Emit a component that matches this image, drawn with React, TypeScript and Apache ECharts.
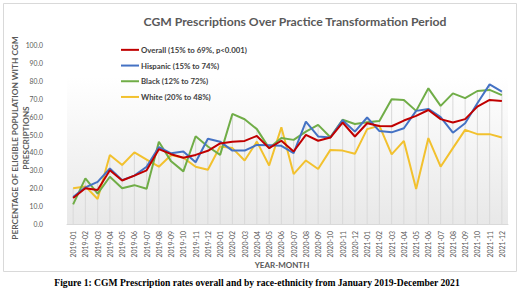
import React, { useEffect, useRef } from "react";
import * as echarts from "echarts";

const months = [
  "2019-01","2019-02","2019-03","2019-04","2019-05","2019-06","2019-07","2019-08","2019-09","2019-10","2019-11","2019-12",
  "2020-01","2020-02","2020-03","2020-04","2020-05","2020-06","2020-07","2020-08","2020-09","2020-10","2020-11","2020-12",
  "2021-01","2021-02","2021-03","2021-04","2021-05","2021-06","2021-07","2021-08","2021-09","2021-10","2021-11","2021-12",
];

const overall = [14.5, 20, 19, 30, 24.3, 27, 30, 41.8, 39, 37, 38.6, 40.9,
  45, 46, 46.4, 49.2, 42.4, 46.5, 40.5, 49.8, 46.5, 48.3, 56.7, 48.9,
  56.3, 54.8, 54.6, 57.8, 60.4, 63.7, 58.6, 56.7, 58.6, 65.6, 69.3, 68.7];
const hispanic = [15, 20.5, 23.5, 31, 24.5, 27, 32, 43, 39.5, 40.5, 34.5, 47.6,
  46, 41, 41, 44.2, 44, 43.7, 39.6, 57.2, 48.9, 48.3, 58, 51.6,
  59.5, 51.9, 51.2, 53.5, 63.2, 64.3, 59.7, 51, 56.3, 67.5, 78, 74];
const black = [11, 25.5, 17, 26.4, 20, 21.7, 19.7, 46, 35, 29.4, 49, 43.3,
  38.6, 61.5, 58.5, 53, 42.4, 48, 47, 51.6, 55.4, 48.5, 58.2, 55.9,
  56.9, 57.5, 69.7, 69.3, 63.2, 75.8, 66, 73, 70.3, 74.3, 74.9, 72];
const white = [20, 21, 14, 38.5, 33, 40, 36, 32, 38.6, 37, 32, 30.3,
  43.3, 42.4, 35.5, 46, 32.7, 54, 27.9, 35.5, 30.7, 41.4, 41, 39.2,
  53, 54.9, 38.9, 46.4, 19.5, 48, 32, 42.4, 52.6, 50.2, 50.2, 48.3];

const seriesNames = [
  "Overall (15% to 69%, p<0.001)",
  "Hispanic (15% to 74%)",
  "Black (12% to 72%)",
  "White (20% to 48%)",
];
const seriesColors = ["#C00000", "#4472C4", "#70AD47", "#F2C12E"];
const yTicks = [0, 10, 20, 30, 40, 50, 60, 70, 80, 90, 100];
const yNameLines = ["PERCENTAGE OF ELIGIBLE POPULATION WITH CGM", "PRESCRIPTIONS"];

export default function App() {
  const ref = useRef<HTMLDivElement>(null);
  useEffect(() => {
    if (!ref.current) return;
    const chart = echarts.init(ref.current, undefined, { renderer: "svg" });
    const data = [overall, hispanic, black, white];
    const maxVals = months.map((_, i) => Math.max(...data.map((d) => d[i])));
    const font = "Lato";
    chart.setOption({
      animation: false,
      backgroundColor: "#ffffff",
      title: {
        text: "CGM Prescriptions Over Practice Transformation Period",
        left: 290,
        textAlign: "center",
        top: 10,
        textStyle: { fontFamily: font, fontWeight: "bold", fontSize: 12.2, color: "#595959" },
      },
      legend: {
        data: seriesNames,
        orient: "vertical",
        left: 116,
        top: 39,
        itemWidth: 18,
        itemHeight: 2,
        itemGap: 4,
        icon: "rect",
        textStyle: { fontFamily: font, fontWeight: "bold", fontSize: 7.8, color: "#404040", lineHeight: 11.7, padding: [0, 0, 0, -3] },
      },
      grid: {
        left: 67,
        right: 12,
        top: 45,
        bottom: 71,
        show: true,
        borderWidth: 0,
        outerBoundsMode: "none",
        containLabel: false,
        backgroundColor: new echarts.graphic.LinearGradient(0, 0, 0, 1, [
          { offset: 0, color: "#ffffff" },
          { offset: 0.18, color: "#ffffff" },
          { offset: 1, color: "#e8e8e8" },
        ]),
      },
      xAxis: {
        type: "category",
        data: months,
        boundaryGap: true,
        axisLine: { show: true, lineStyle: { color: "#d9d9d9" } },
        axisTick: { show: false },
        axisLabel: { rotate: 90, fontFamily: font, fontSize: 6.9, color: "#595959", margin: 7, interval: 0 },
        splitLine: { show: false },
      },
      yAxis: {
        type: "value",
        min: yTicks[0],
        max: yTicks[yTicks.length - 1],
        interval: 10,
        axisLine: { show: false },
        axisTick: { show: false },
        axisLabel: { fontFamily: font, fontSize: 6.8, color: "#595959", margin: 24, formatter: (v: number) => v.toFixed(1) },
        splitLine: { show: false },
      },
      series: [
        {
          type: "bar",
          name: "drop",
          data: maxVals,
          barWidth: 1,
          silent: true,
          itemStyle: { color: "#d9d9d9" },
          z: 1,
        },
        ...seriesNames.map((n, k) => ({
          type: "line",
          name: n,
          data: data[k],
          showSymbol: false,
          symbol: "none",
          lineStyle: { width: 2, color: seriesColors[k] },
          itemStyle: { color: seriesColors[k] },
          z: 3 + (3 - k),
        })),
      ],
      graphic: [
        {
          type: "rect",
          shape: { x: 3.5, y: 3.5, width: 513, height: 268 },
          style: { fill: "none", stroke: "#d9d9d9", lineWidth: 1 },
          silent: true,
          z: -1,
        },
        ...yNameLines.map((t, i) => ({
          type: "text",
          x: 14.5 + i * 11.5,
          y: 138,
          rotation: Math.PI / 2,
          style: {
            text: t,
            fontFamily: font,
            fontWeight: "bold",
            fontSize: 8.3,
            fill: "#595959",
            align: "center",
            verticalAlign: "middle",
          },
        })),
        {
          type: "text",
          x: 282,
          y: 265,
          style: {
            text: "YEAR-MONTH",
            fontFamily: font,
            fontWeight: "bold",
            fontSize: 8,
            fill: "#595959",
            align: "center",
            verticalAlign: "middle",
          },
        },
        {
          type: "text",
          x: 257,
          y: 282,
          style: {
            text: "Figure 1: CGM Prescription rates overall and by race-ethnicity from January 2019-December 2021",
            fontFamily: "Liberation Serif",
            fontWeight: "bold",
            fontSize: 9.6,
            fill: "#000000",
            align: "center",
            verticalAlign: "middle",
          },
        },
      ],
    });
    return () => chart.dispose();
  }, []);
  return (
    <div
      ref={ref}
      style={{ position: "fixed", left: 0, top: 0, width: 520, height: 295 }}
    />
  );
}
